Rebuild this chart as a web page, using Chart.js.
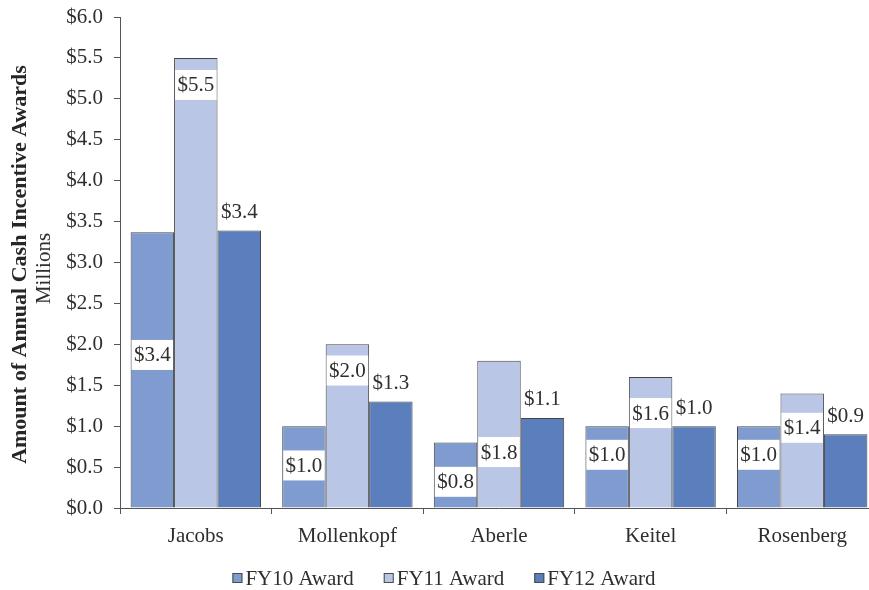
<!DOCTYPE html>
<html>
<head>
<meta charset="utf-8">
<script src="https://cdn.jsdelivr.net/npm/chart.js@4/dist/chart.umd.min.js"></script>
<style>
  html, body { margin: 0; padding: 0; background: #ffffff; overflow: hidden; }
  #wrap { width: 888px; height: 590px; }
</style>
</head>
<body>
<div id="wrap"><canvas id="c" width="888" height="590"></canvas></div>
<script>
// Annual cash incentive awards, $ millions
const categories = ['Jacobs', 'Mollenkopf', 'Aberle', 'Keitel', 'Rosenberg'];
const seriesNames = ['FY10 Award', 'FY11 Award', 'FY12 Award'];
const fy10 = [3.37, 1.0, 0.8, 1.0, 1.0];
const fy11 = [5.5, 2.0, 1.8, 1.6, 1.4];
const fy12 = [3.39, 1.3, 1.1, 1.0, 0.9];
const yTickValues = [0, 0.5, 1, 1.5, 2, 2.5, 3, 3.5, 4, 4.5, 5, 5.5, 6];
const yTitle = 'Amount of Annual Cash Incentive Awards';
const yUnit = 'Millions';

// Where the boxed labels sit inside the FY10 / FY11 bars (share of bar height)
const insideLabelAt = [
  [0.555, 0.52, 0.40, 0.65, 0.65],
  [0.94, 0.84, 0.38, 0.725, 0.70]
];

const FONT = '"Liberation Serif", "Times New Roman", serif';
const TEXT = '#2e2e2e';
const AXIS = '#555555';
const colors = ['#7f9bcf', '#b9c6e5', '#5b7ebd'];
const money = v => '$' + (Math.round(v * 10) / 10).toFixed(1);

const valueLabels = {
  id: 'valueLabels',
  afterDatasetsDraw(chart) {
    const ctx = chart.ctx;
    const y = chart.scales.y;
    ctx.save();
    ctx.font = '21px ' + FONT;
    ctx.textAlign = 'center';
    ctx.textBaseline = 'middle';
    chart.data.datasets.forEach((ds, d) => {
      const meta = chart.getDatasetMeta(d);
      meta.data.forEach((bar, i) => {
        const v = ds.data[i];
        const txt = money(v);
        if (d < 2) {
          const cy = y.getPixelForValue(v * insideLabelAt[d][i]);
          ctx.fillStyle = '#ffffff';
          ctx.fillRect(bar.x - bar.width / 2 + 1, cy - 15, bar.width - 2, 30);
          ctx.fillStyle = TEXT;
          ctx.fillText(txt, bar.x, cy + 1);
        } else {
          ctx.fillStyle = TEXT;
          ctx.fillText(txt, bar.x, bar.y - 18);
        }
      });
    });
    ctx.restore();
  }
};

const axisTitle = {
  id: 'axisTitle',
  afterDraw(chart) {
    const ctx = chart.ctx;
    const a = chart.chartArea;
    const cy = (a.top + a.bottom) / 2 + 2;
    ctx.save();
    ctx.fillStyle = '#262626';
    ctx.textAlign = 'center';
    ctx.textBaseline = 'middle';
    ctx.translate(20, cy);
    ctx.rotate(-Math.PI / 2);
    ctx.font = 'bold 22px ' + FONT;
    ctx.fillText(yTitle, 0, 0);
    ctx.font = '21px ' + FONT;
    ctx.fillStyle = TEXT;
    ctx.fillText(yUnit, -4, 24);
    ctx.restore();
  }
};

const bottomLegend = {
  id: 'bottomLegend',
  afterDraw(chart) {
    const ctx = chart.ctx;
    const box = 10, gap = 3, spacing = 30, cy = 578;
    ctx.save();
    ctx.font = '21px ' + FONT;
    ctx.textBaseline = 'middle';
    ctx.textAlign = 'left';
    const widths = seriesNames.map(n => box + gap + ctx.measureText(n).width);
    const total = widths.reduce((s, w) => s + w, 0) + spacing * (widths.length - 1);
    let x = chart.width / 2 - total / 2;
    seriesNames.forEach((n, i) => {
      ctx.fillStyle = colors[i];
      ctx.fillRect(x, cy - box / 2, box, box);
      ctx.strokeStyle = '#4a4a4a';
      ctx.lineWidth = 1;
      ctx.strokeRect(x + 0.5, cy - box / 2 + 0.5, box - 1, box - 1);
      ctx.fillStyle = TEXT;
      ctx.fillText(n, x + box + gap, cy + 1);
      x += widths[i] + spacing;
    });
    ctx.restore();
  }
};

const seriesData = [fy10, fy11, fy12];

new Chart(document.getElementById('c'), {
  type: 'bar',
  data: {
    labels: categories,
    datasets: seriesNames.map((name, i) => ({
      label: name,
      data: seriesData[i],
      backgroundColor: colors[i],
      borderColor: '#454545',
      borderWidth: 1,
      categoryPercentage: 0.86,
      barPercentage: 1.0
    }))
  },
  options: {
    responsive: false,
    animation: false,
    layout: { padding: { top: 17, right: 10, bottom: 0, left: 0 } },
    plugins: {
      legend: { display: false },
      tooltip: { enabled: false }
    },
    scales: {
      x: {
        grid: { display: true, drawOnChartArea: false, drawTicks: true, tickLength: 6, color: AXIS, offset: true },
        border: { color: AXIS, width: 1 },
        ticks: { font: { family: FONT, size: 21 }, color: TEXT, padding: 10, maxRotation: 0 },
        afterFit(s) { s.height = 82; s.paddingLeft = 0; s.paddingRight = 0; }
      },
      y: {
        min: 0,
        max: 6,
        afterBuildTicks(s) { s.ticks = yTickValues.map(v => ({ value: v })); },
        ticks: { font: { family: FONT, size: 21 }, color: TEXT, padding: 11, callback: v => money(v) },
        grid: { display: true, drawOnChartArea: false, drawTicks: true, tickLength: 6, color: AXIS },
        border: { color: AXIS, width: 1 },
        afterFit(s) { s.width = 120; s.paddingTop = 0; s.paddingBottom = 0; }
      }
    }
  },
  plugins: [valueLabels, axisTitle, bottomLegend]
});
</script>
</body>
</html>
